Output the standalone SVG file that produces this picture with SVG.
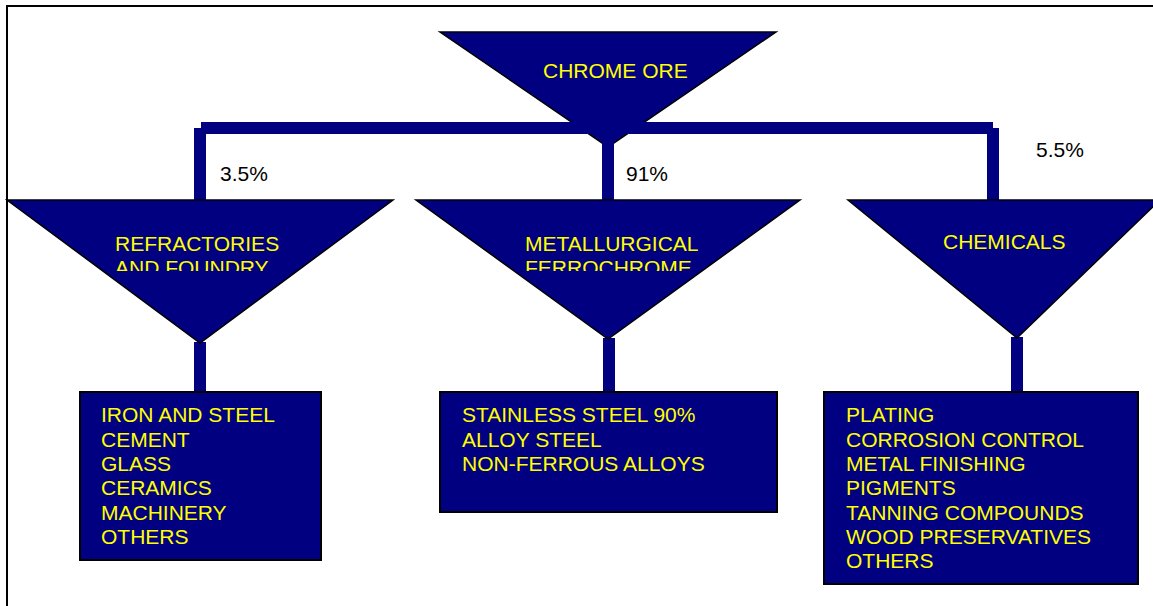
<svg xmlns="http://www.w3.org/2000/svg" width="1153" height="606" viewBox="0 0 1153 606">
<style>
.tri{fill:#000080;stroke:#000;stroke-width:1.5;stroke-linejoin:miter}
.box{fill:#000080;stroke:#000;stroke-width:2}
.bar{fill:#000080}
.t{font-family:"Liberation Sans",Arial,sans-serif;font-size:21px;fill:#FFFF00}
.p{font-family:"Liberation Sans",Arial,sans-serif;font-size:21px;fill:#000}
.frame{stroke:#000;stroke-width:2;fill:none}
</style>
<defs>
<clipPath id="c1"><rect x="0" y="225" width="1153" height="46"/></clipPath>
</defs>
<path class="frame" d="M7,606 V6 H1153"/>
<g id="chrome-ore">
<polygon class="tri" points="440,32 776,32 608,147"/>
<text class="t" x="543" y="78">CHROME ORE</text>
</g>
<g id="connectors">
<rect class="bar" x="201" y="122" width="792" height="12"/>
<rect class="bar" x="194" y="128" width="12" height="72"/>
<rect class="bar" x="602" y="134" width="12" height="66"/>
<rect class="bar" x="987" y="128" width="12" height="72"/>
<rect class="bar" x="194" y="342" width="12" height="50"/>
<rect class="bar" x="603" y="338" width="12" height="54"/>
<rect class="bar" x="1011" y="337" width="12" height="55"/>
</g>
<g id="pct">
<text class="p" x="220" y="181">3.5%</text>
<text class="p" x="626" y="181">91%</text>
<text class="p" x="1036" y="157">5.5%</text>
</g>
<g id="refractories">
<polygon class="tri" points="7,200 393,200 200,343"/>
<g clip-path="url(#c1)">
<text class="t" x="115" y="251">REFRACTORIES</text>
<text class="t" x="115" y="275">AND FOUNDRY</text>
</g>
</g>
<g id="metallurgical">
<polygon class="tri" points="416,200 800,200 608,339"/>
<g clip-path="url(#c1)">
<text class="t" x="525" y="251">METALLURGICAL</text>
<text class="t" x="525" y="275">FERROCHROME</text>
</g>
</g>
<g id="chemicals">
<polygon class="tri" points="848,200 1160,200 1017,338"/>
<text class="t" x="943" y="249">CHEMICALS</text>
</g>
<g id="box-refractories">
<rect class="box" x="80" y="392" width="241" height="168"/>
<text class="t" x="101" y="422">IRON AND STEEL</text>
<text class="t" x="101" y="446.5">CEMENT</text>
<text class="t" x="101" y="471">GLASS</text>
<text class="t" x="101" y="495">CERAMICS</text>
<text class="t" x="101" y="519.5">MACHINERY</text>
<text class="t" x="101" y="544">OTHERS</text>
</g>
<g id="box-metallurgical">
<rect class="box" x="440" y="392" width="337" height="120"/>
<text class="t" x="462" y="422">STAINLESS STEEL 90%</text>
<text class="t" x="462" y="446.5">ALLOY STEEL</text>
<text class="t" x="462" y="471">NON-FERROUS ALLOYS</text>
</g>
<g id="box-chemicals">
<rect class="box" x="824" y="392" width="314" height="192"/>
<text class="t" x="846" y="422">PLATING</text>
<text class="t" x="846" y="446.5">CORROSION CONTROL</text>
<text class="t" x="846" y="471">METAL FINISHING</text>
<text class="t" x="846" y="495">PIGMENTS</text>
<text class="t" x="846" y="519.5">TANNING COMPOUNDS</text>
<text class="t" x="846" y="544">WOOD PRESERVATIVES</text>
<text class="t" x="846" y="568">OTHERS</text>
</g>
</svg>
